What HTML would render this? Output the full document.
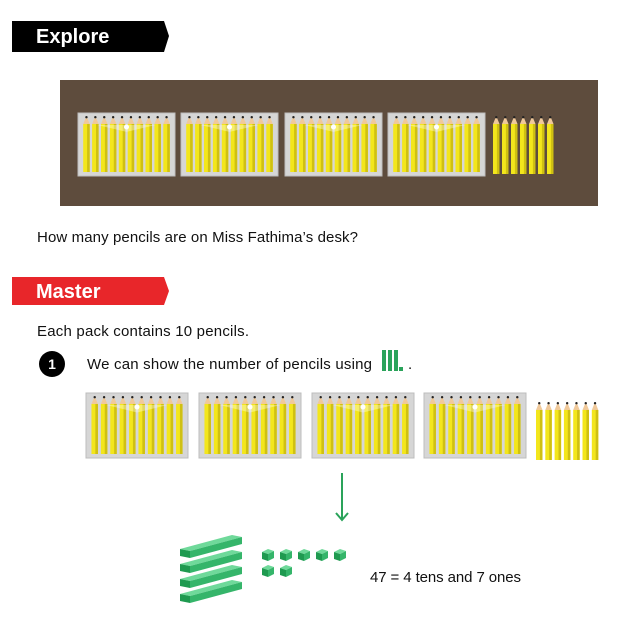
<!DOCTYPE html>
<html><head><meta charset="utf-8"><style>
body{margin:0;width:622px;height:627px;background:#fff;overflow:hidden;font-family:"Liberation Sans",sans-serif;}
</style></head><body>
<svg id="s" width="622" height="627" xmlns="http://www.w3.org/2000/svg" style="position:absolute;left:0;top:0">
<polygon points="12,21 164,21 169,36 164,52 12,52" fill="#000"/>
<text x="36" y="43" fill="#fff" font-size="20" font-weight="bold" font-family="Liberation Sans,sans-serif">Explore</text>
<rect x="60" y="80" width="538" height="126" fill="#5e4c3d"/>
<text x="37" y="242" font-size="15" fill="#111" font-family="Liberation Sans,sans-serif" textLength="321">How many pencils are on Miss Fathima’s desk?</text>
<polygon points="12,277 164,277 169,291 164,305 12,305" fill="#e8262a"/>
<text x="36" y="298" fill="#fff" font-size="20" font-weight="bold" font-family="Liberation Sans,sans-serif">Master</text>
<text x="37" y="336" font-size="15" fill="#111" font-family="Liberation Sans,sans-serif" textLength="212">Each pack contains 10 pencils.</text>
<circle cx="52" cy="364" r="13" fill="#000"/>
<text x="52" y="369" fill="#fff" font-size="14" font-weight="bold" text-anchor="middle" font-family="Liberation Sans,sans-serif">1</text>
<text x="87" y="369" font-size="15" fill="#111" font-family="Liberation Sans,sans-serif" textLength="285">We can show the number of pencils using</text>
<rect x="382" y="350" width="4" height="21" fill="#2aa35a"/><rect x="388" y="350" width="4" height="21" fill="#2aa35a"/><rect x="394" y="350" width="4" height="21" fill="#2aa35a"/><rect x="399" y="367" width="4" height="4" fill="#2aa35a"/>
<text x="408" y="369" font-size="15" fill="#111">.</text>
<line x1="342" y1="473" x2="342" y2="519" stroke="#2aa35a" stroke-width="2"/>
<polyline points="336,513 342,520 348,513" fill="none" stroke="#2aa35a" stroke-width="2"/>
<text x="370" y="582" font-size="15" fill="#111" font-family="Liberation Sans,sans-serif" textLength="151">47 = 4 tens and 7 ones</text>
<g id="g"></g>
</svg>
<script>
var g=document.getElementById('g'),h='';
function pencil(x,y,len,w){
 w=w||6.5;
 h+='<polygon points="'+x+','+(y+8)+' '+(x+w/2)+','+y+' '+(x+w)+','+(y+8)+'" fill="#f0c99a"/>';
 h+='<circle cx="'+(x+w/2)+'" cy="'+(y+1.2)+'" r="1.2" fill="#222"/>';
 h+='<rect x="'+x+'" y="'+(y+8)+'" width="'+w+'" height="'+(len-8)+'" fill="#f3e61c"/>';
 h+='<rect x="'+(x+w*0.6)+'" y="'+(y+8)+'" width="'+(w*0.4)+'" height="'+(len-8)+'" fill="#cfc012"/>';
}
function pack(x,y,w,hh){
 h+='<rect x="'+x+'" y="'+y+'" width="'+w+'" height="'+hh+'" fill="#d6d6d6" stroke="#bdbdbd"/>';
 var sp=(w-8)/10;
 for(var i=0;i<10;i++)pencil(x+4+i*sp+sp/2-3.25,y+3,hh-7);
 h+='<polygon points="'+(x+w*0.2)+','+(y+12)+' '+(x+w/2)+','+(y+hh*0.3)+' '+(x+w*0.8)+','+(y+12)+'" fill="#fff" opacity="0.35"/>';
 h+='<circle cx="'+(x+w/2)+'" cy="'+(y+14)+'" r="2.5" fill="#fff"/>';
}
[78,181,285,388].forEach(function(x){pack(x,113,97,63)});
for(var i=0;i<7;i++)pencil(493+i*9,116,58);
[86,199,312,424].forEach(function(x){pack(x,393,102,65)});
for(var i=0;i<7;i++)pencil(536+i*9.3,402,58);
function rod(x,y){
 h+='<polygon points="'+x+','+(y+8)+' '+(x+52)+','+(y-6)+' '+(x+62)+','+(y-4)+' '+(x+10)+','+(y+10)+'" fill="#6fd99a"/>';
 h+='<polygon points="'+x+','+(y+8)+' '+(x+10)+','+(y+10)+' '+(x+10)+','+(y+17)+' '+x+','+(y+15)+'" fill="#1f9a50"/>';
 h+='<polygon points="'+(x+10)+','+(y+10)+' '+(x+62)+','+(y-4)+' '+(x+62)+','+(y+3)+' '+(x+10)+','+(y+17)+'" fill="#35b56a"/>';
}
[541,556,571,586].forEach(function(y){rod(180,y)});
function cube(x,y){
 h+='<polygon points="'+x+','+(y+3)+' '+(x+6)+','+y+' '+(x+12)+','+(y+2)+' '+(x+6)+','+(y+5)+'" fill="#6fd99a"/>';
 h+='<polygon points="'+x+','+(y+3)+' '+(x+6)+','+(y+5)+' '+(x+6)+','+(y+12)+' '+x+','+(y+10)+'" fill="#1f9a50"/>';
 h+='<polygon points="'+(x+6)+','+(y+5)+' '+(x+12)+','+(y+2)+' '+(x+12)+','+(y+9)+' '+(x+6)+','+(y+12)+'" fill="#35b56a"/>';
}
for(var i=0;i<5;i++)cube(262+i*18,549);
cube(262,565);cube(280,565);
g.innerHTML=h;
</script>
</body></html>
